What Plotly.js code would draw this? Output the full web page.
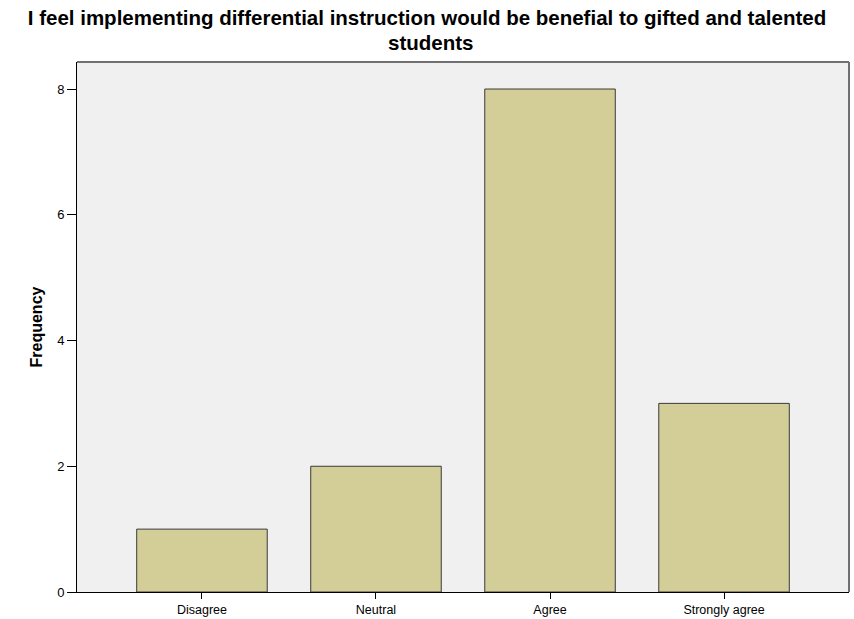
<!DOCTYPE html>
<html>
<head>
<meta charset="utf-8">
<script src="https://cdn.plot.ly/plotly-3.0.1.min.js"></script>
<style>html,body{margin:0;padding:0;background:#fff;}#chart{width:854px;height:619px;}</style>
</head>
<body>
<div id="chart"></div>
<script>
const categories = ["Disagree", "Neutral", "Agree", "Strongly agree"];
const frequency = [1, 2, 8, 3];
const yTicks = [0, 2, 4, 6, 8];
const titleLine1 = "I feel implementing differential instruction would be benefial to gifted and talented";
const titleLine2 = "students";

const trace = {
  type: "bar",
  x: categories,
  y: frequency,
  marker: { color: "#d3ce98", line: { color: "#3a3a3a", width: 1 } },
  hoverinfo: "x+y"
};

const layout = {
  width: 854,
  height: 619,
  margin: { l: 77, r: 5, t: 62, b: 27 },
  paper_bgcolor: "#ffffff",
  plot_bgcolor: "#f0f0f0",
  bargap: 0.25,
  showlegend: false,
  font: { family: "Liberation Sans, Arial, sans-serif", color: "#000" },
  title: {
    text: "<b>" + titleLine1 + "</b>",
    font: { size: 20.5, family: "Liberation Sans, Arial, sans-serif", color: "#000" },
    x: 0.5, xanchor: "center", xref: "container",
    y: 1 - 18 / 619, yanchor: "middle", yref: "container"
  },
  annotations: [
    {
      text: "<b>" + titleLine2 + "</b>",
      xref: "paper", yref: "paper",
      x: (430 - 77) / 772, y: 1 + (62 - 42) / 530,
      xanchor: "center", yanchor: "middle",
      showarrow: false,
      font: { size: 20.5, family: "Liberation Sans, Arial, sans-serif", color: "#000" }
    }
  ],
  xaxis: {
    type: "category",
    range: [-0.718, 3.718],
    showgrid: false,
    zeroline: false,
    showline: true,
    linecolor: "#000",
    linewidth: 1,
    ticks: "outside",
    ticklen: 6,
    tickcolor: "#000",
    tickfont: { size: 12.5, color: "#000" },
    fixedrange: true
  },
  yaxis: {
    range: [0, 8.43],
    tickvals: yTicks,
    ticktext: yTicks.map(String),
    showgrid: false,
    zeroline: false,
    showline: true,
    linecolor: "#000",
    linewidth: 1,
    ticks: "outside",
    ticklen: 9,
    tickcolor: "#000",
    tickfont: { size: 13, color: "#000" },
    title: { text: "<b>Frequency</b>", font: { size: 16, color: "#000" }, standoff: 10 },
    fixedrange: true
  },
  shapes: [
    { type: "line", xref: "paper", yref: "paper", x0: 0, x1: 1, y0: 1, y1: 1, line: { color: "#707070", width: 2 } },
    { type: "line", xref: "paper", yref: "paper", x0: 1, x1: 1, y0: 0, y1: 1, line: { color: "#707070", width: 2 } }
  ]
};

Plotly.newPlot("chart", [trace], layout, { displayModeBar: false, staticPlot: true });
</script>
</body>
</html>
